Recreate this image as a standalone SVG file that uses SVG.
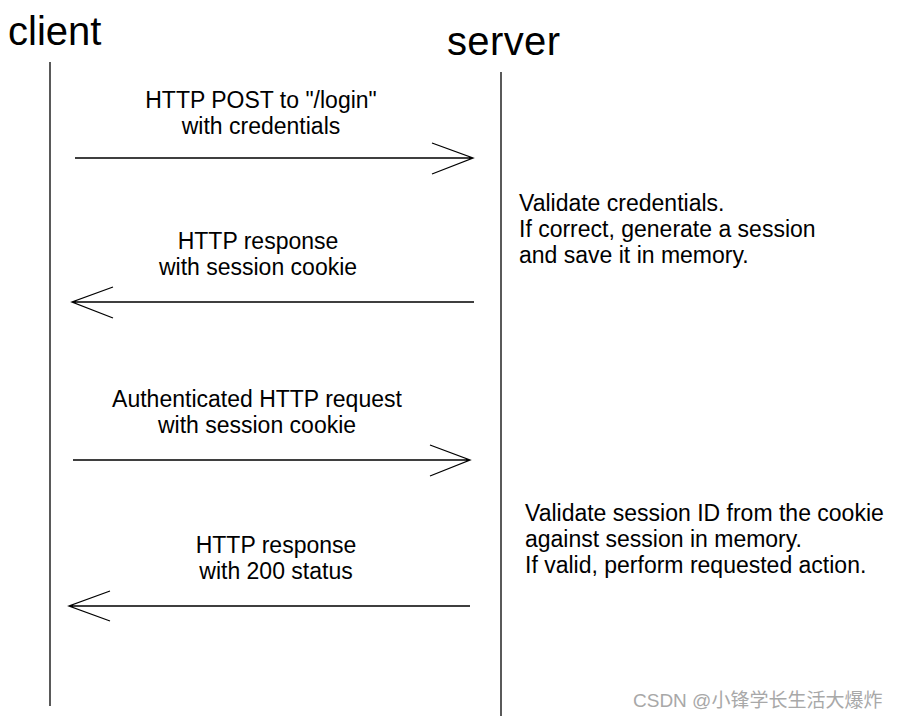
<svg xmlns="http://www.w3.org/2000/svg" width="900" height="722" viewBox="0 0 900 722">
<style>
text{font-family:"Liberation Sans",Arial,sans-serif;fill:#000}
.t{font-size:23px}
.c{text-anchor:middle}
.h{font-size:40px}
.life{stroke:#000;stroke-width:1.3;fill:none}
.ar{stroke:#000;stroke-width:1.3;fill:none}
.wm{font-family:"Liberation Sans","Noto Sans CJK SC",sans-serif;font-size:19px;fill:#a8a8a8}
</style>
<rect width="900" height="722" fill="#fff"/>
<g id="client">
<text class="h" x="8" y="45">client</text>
<line class="life" x1="50" y1="62" x2="50" y2="706"/>
</g>
<g id="server">
<text class="h" x="447" y="55" textLength="113">server</text>
<line class="life" x1="501" y1="72" x2="501" y2="716"/>
<text class="t" x="519" y="211">Validate credentials.</text>
<text class="t" x="519" y="237">If correct, generate a session</text>
<text class="t" x="519" y="263">and save it in memory.</text>
<text class="t" x="525" y="521">Validate session ID from the cookie</text>
<text class="t" x="525" y="547">against session in memory.</text>
<text class="t" x="525" y="573">If valid, perform requested action.</text>
</g>
<g id="connectors">
<g id="m1">
<path class="ar" d="M75 158H473M432 143L473 158L432 174"/>
<text class="t c" x="261" y="108">HTTP POST to "/login"</text>
<text class="t c" x="261" y="134">with credentials</text>
</g>
<g id="m2">
<path class="ar" d="M474 302H72M113 287L72 302L113 318"/>
<text class="t c" x="258" y="249">HTTP response</text>
<text class="t c" x="258" y="275">with session cookie</text>
</g>
<g id="m3">
<path class="ar" d="M73 460H470M430 445L470 460L430 476"/>
<text class="t c" x="257" y="407">Authenticated HTTP request</text>
<text class="t c" x="257" y="433">with session cookie</text>
</g>
<g id="m4">
<path class="ar" d="M470 606H69M110 591L69 606L110 621"/>
<text class="t c" x="276" y="553">HTTP response</text>
<text class="t c" x="276" y="579">with 200 status</text>
</g>
</g>
<text class="wm" x="633" y="707">CSDN @小锋学长生活大爆炸</text>
</svg>
